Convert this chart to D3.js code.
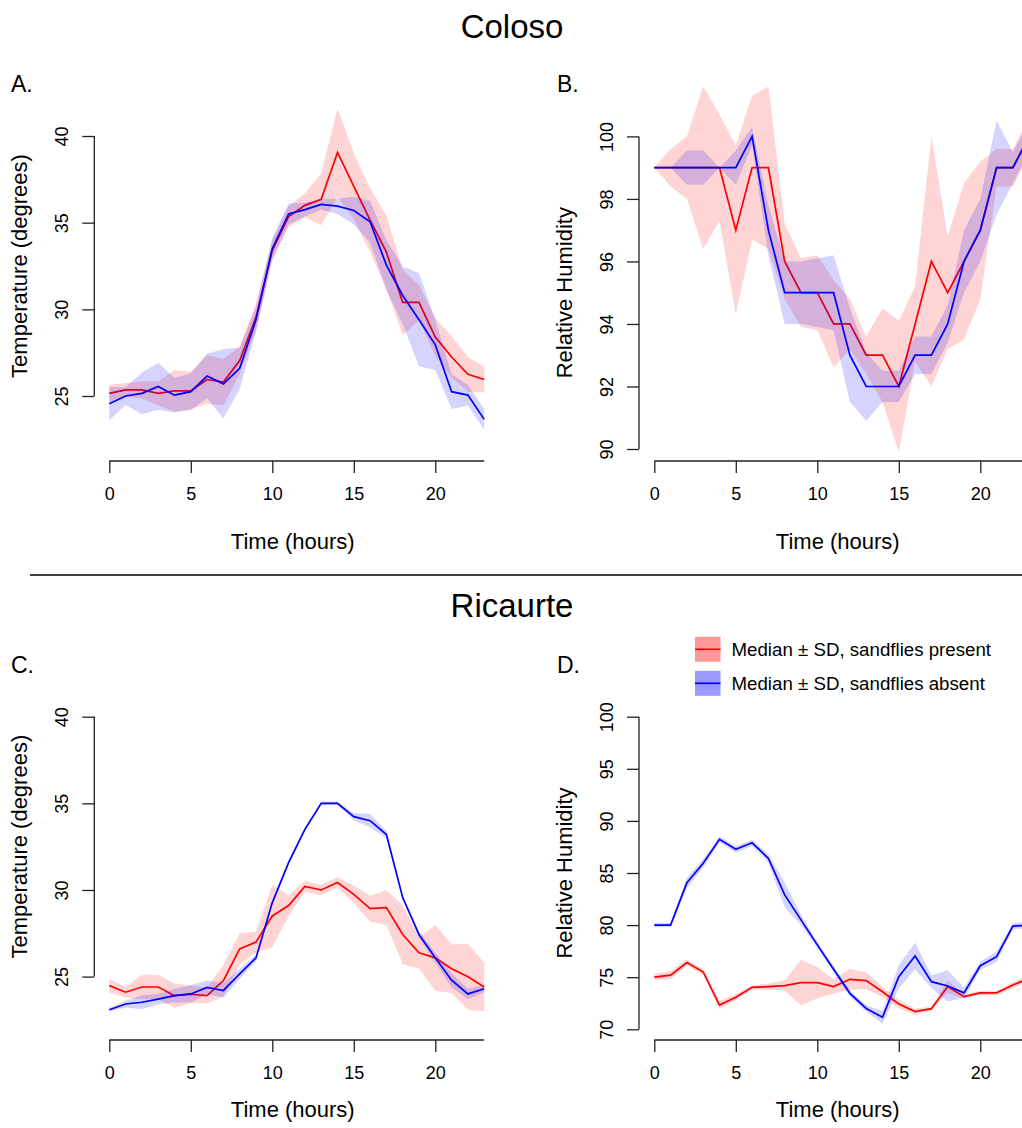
<!DOCTYPE html>
<html><head><meta charset="utf-8">
<script src="https://cdn.jsdelivr.net/npm/d3@7"></script>
<style>body{margin:0;background:#fff}svg{display:block}text{font-family:"Liberation Sans",Arial,Helvetica,sans-serif;fill:#000}</style>
</head><body>
<script>
const hours = d3.range(0, 24);
const xTicks = [0, 5, 10, 15, 20];

// Coloso temperature (A)
const colosoTempPresent = [25.15,25.35,25.35,25.15,25.3,25.3,25.95,25.8,27.05,29.55,33.4,35.35,36.0,36.35,39.05,37.1,35.15,33.3,30.4,30.4,28.4,27.25,26.25,25.95];
const colosoTempPresentSD = [0.5,0.4,0.5,0.7,1.2,1.1,1.4,1.35,0.8,0.8,0.6,0.6,0.7,1.5,2.55,1.9,1.85,2.1,1.9,1.0,1.1,1.2,1.0,0.75];
const colosoTempAbsent = [24.55,25.0,25.15,25.55,25.05,25.25,26.15,25.7,26.6,29.4,33.5,35.5,35.75,36.05,35.95,35.7,35.05,32.55,30.8,29.4,27.95,25.25,25.05,23.65];
const colosoTempAbsentSD = [0.97,0.5,1.2,1.35,1.0,1.05,1.3,2.0,1.2,0.7,0.6,0.6,0.4,0.3,0.45,0.8,1.2,1.45,1.65,2.7,1.45,1.0,0.6,0.6];

// Coloso humidity (B)
const colosoHumPresent = [99,99,99,99,99,97,99,99,96,95,95,94,94,93,93,92,94,96,95,96,97,99,99,100];
const colosoHumPresentSD = [0,0.6,1,2.6,1.7,2.7,2.3,2.6,1.2,1.1,1.2,1.4,0.8,0.6,1.5,2.1,1.2,4,1.8,2.5,2.2,0.6,0.6,0.6];
const colosoHumAbsent = [99,99,99,99,99,99,100,97,95,95,95,95,93,92,92,92,93,93,94,96,97,99,99,100];
const colosoHumAbsentSD = [0,0,0.55,0.55,0,0.55,0.3,0.8,1,1,1.1,1.2,1.5,1.1,0.5,0.5,0.6,0.6,0.6,1,1,1.5,0.5,0.5];

// Ricaurte temperature (C)
const ricaurteTempPresent = [24.48,24.1,24.4,24.4,23.9,23.98,23.9,24.77,26.6,26.99,28.5,29.1,30.2,30.0,30.43,29.75,28.92,28.98,27.43,26.37,26.08,25.45,24.99,24.4];
const ricaurteTempPresentSD = [0.4,0.3,0.7,0.7,0.7,0.5,0.45,0.9,0.9,0.6,1.8,0.6,0.3,0.3,0.3,0.5,0.75,1.0,1.7,0.9,1.9,1.4,1.9,1.4];
const ricaurteTempAbsent = [23.09,23.42,23.52,23.7,23.9,24.0,24.38,24.2,25.16,26.08,29.27,31.58,33.5,35.0,35.0,34.23,34.0,33.2,29.56,27.43,26.08,24.79,24.0,24.3];
const ricaurteTempAbsentSD = [0.1,0.2,0.4,0.3,0.4,0.5,0.4,0.4,0.3,0.2,0.1,0.1,0.1,0.1,0.1,0.2,0.4,0.2,0.1,0.2,0.3,0.4,0.3,0.2];

// Ricaurte humidity (D)
const ricaurteHumPresent = [75,75.2,76.4,75.5,72.33,73.07,74.03,74.1,74.2,74.48,74.48,74.1,74.8,74.67,73.6,72.43,71.7,71.98,74.1,73.13,73.5,73.5,74.25,74.9];
const ricaurteHumPresentSD = [0.3,0.4,0.3,0.3,0.4,0.3,0.2,0.3,0.5,2.2,1.5,0.7,1.0,0.8,0.5,0.4,0.3,0.2,0.6,0.2,0.2,0.2,0.3,0.3];
const ricaurteHumAbsent = [80,80,84.07,85.93,88.23,87.27,87.9,86.4,82.9,80.5,78.1,75.76,73.45,72.0,71.15,75.05,77.03,74.57,74.16,73.5,76.1,76.97,79.9,80];
const ricaurteHumAbsentSD = [0.2,0.2,0.5,0.4,0.3,0.3,0.3,0.4,1.2,0.5,0.3,0.3,0.3,0.3,0.6,1.1,1.3,0.6,1.5,0.5,0.4,0.5,0.3,0.3];

const tempTicks = [25, 30, 35, 40];
const humTicksB = [90, 92, 94, 96, 98, 100];
const humTicksD = [70, 75, 80, 85, 90, 95, 100];

const siteTitles = ["Coloso", "Ricaurte"];
const legendLabels = ["Median \u00B1 SD, sandflies present", "Median \u00B1 SD, sandflies absent"];

const W = 1022, H = 1128;
const svg = d3.select("body").append("svg").attr("width", W).attr("height", H);

const FONT = '"Liberation Sans",Arial,Helvetica,sans-serif';

function panel(o) {
  const g = svg.append("g");
  const x = d3.scaleLinear().domain([0, 23]).range([o.x0, o.x0 + 23 * 16.3]);
  const y = d3.scaleLinear().domain(o.yDomain).range(o.yRange);
  const series = [
    {m: o.present, sd: o.presentSD, fill: "rgba(255,0,0,0.17)", stroke: "#ff0000"},
    {m: o.absent, sd: o.absentSD, fill: "rgba(0,0,255,0.17)", stroke: "#0000ff"}
  ];
  series.forEach(s => {
    const area = d3.area().x((d, i) => x(hours[i])).y0((d, i) => y(s.m[i] - s.sd[i])).y1((d, i) => y(s.m[i] + s.sd[i]));
    g.append("path").attr("d", area(s.m)).attr("fill", s.fill).attr("stroke", "none");
    const line = d3.line().x((d, i) => x(hours[i])).y(d => y(d));
    g.append("path").attr("d", line(s.m)).attr("fill", "none").attr("stroke", s.stroke).attr("stroke-width", 1.7).attr("stroke-linejoin", "miter");
  });
  // x axis
  const xa = g.append("g").attr("transform", `translate(0,${o.xAxisY})`)
    .call(d3.axisBottom(x).tickValues(xTicks).tickSize(12).tickPadding(14).tickSizeOuter(0));
  xa.select(".domain").attr("d", `M${x(0)},0H${x(23)}`).attr("stroke", "#222").attr("stroke-width", 1.3);
  xa.selectAll(".tick line").attr("stroke", "#222").attr("stroke-width", 1.3);
  xa.selectAll("text").style("font-size", "18px").style("font-family", FONT).attr("fill", "#000").attr("dy", "0.71em");
  // y axis
  const ya = g.append("g").attr("transform", `translate(${o.yAxisX},0)`)
    .call(d3.axisLeft(y).tickValues(o.yTicks).tickSize(12).tickSizeOuter(0));
  ya.select(".domain").attr("stroke", "#222").attr("stroke-width", 1.3)
    .attr("d", `M0,${y(o.yTicks[0])}V${y(o.yTicks[o.yTicks.length - 1])}`);
  ya.selectAll(".tick line").attr("stroke", "#222").attr("stroke-width", 1.3);
  ya.selectAll("text").style("font-size", "18px").style("font-family", FONT).attr("fill", "#000")
    .attr("x", 0).attr("dy", 0).attr("text-anchor", "middle")
    .attr("transform", "translate(-26,0) rotate(-90)");
  // labels
  g.append("text").attr("x", (x(0) + x(23)) / 2 - 4).attr("y", o.xLabelY).attr("text-anchor", "middle")
    .style("font-size", "22px").text("Time (hours)");
  g.append("text").attr("transform", `translate(${o.yAxisX - 67},${(y(o.yTicks[0]) + y(o.yTicks[o.yTicks.length - 1])) / 2}) rotate(-90)`)
    .attr("text-anchor", "middle").style("font-size", "22px").text(o.yLabel);
  g.append("text").attr("x", o.letterX).attr("y", o.letterY).style("font-size", "23px").text(o.letter);
}

panel({letter: "A.", letterX: 11, letterY: 92, x0: 109.3, xAxisY: 461, xLabelY: 549, yAxisX: 94.3,
  yDomain: [25, 40], yRange: [396, 136], yTicks: tempTicks, yLabel: "Temperature (degrees)",
  present: colosoTempPresent, presentSD: colosoTempPresentSD, absent: colosoTempAbsent, absentSD: colosoTempAbsentSD});
panel({letter: "B.", letterX: 557, letterY: 92, x0: 654.3, xAxisY: 461, xLabelY: 549, yAxisX: 639,
  yDomain: [90, 100], yRange: [449, 136.4], yTicks: humTicksB, yLabel: "Relative Humidity",
  present: colosoHumPresent, presentSD: colosoHumPresentSD, absent: colosoHumAbsent, absentSD: colosoHumAbsentSD});
panel({letter: "C.", letterX: 11, letterY: 673, x0: 109.3, xAxisY: 1040, xLabelY: 1117, yAxisX: 94.3,
  yDomain: [25, 40], yRange: [976.6, 716.7], yTicks: tempTicks, yLabel: "Temperature (degrees)",
  present: ricaurteTempPresent, presentSD: ricaurteTempPresentSD, absent: ricaurteTempAbsent, absentSD: ricaurteTempAbsentSD});
panel({letter: "D.", letterX: 557, letterY: 673, x0: 654.3, xAxisY: 1040, xLabelY: 1117, yAxisX: 639,
  yDomain: [70, 100], yRange: [1029.3, 716.7], yTicks: humTicksD, yLabel: "Relative Humidity",
  present: ricaurteHumPresent, presentSD: ricaurteHumPresentSD, absent: ricaurteHumAbsent, absentSD: ricaurteHumAbsentSD});

// Titles
svg.append("text").attr("x", 512).attr("y", 38).attr("text-anchor", "middle").style("font-size", "33px").text(siteTitles[0]);
svg.append("text").attr("x", 512).attr("y", 617).attr("text-anchor", "middle").style("font-size", "33px").text(siteTitles[1]);
// separator
svg.append("line").attr("x1", 30).attr("x2", 1022).attr("y1", 575).attr("y2", 575).attr("stroke", "#000").attr("stroke-width", 1.5);

// Legend
const legColors = [["rgba(255,0,0,0.4)", "#ff0000"], ["rgba(0,0,255,0.4)", "#0000ff"]];
legendLabels.forEach((lab, i) => {
  const cy = 649.3 + i * 34;
  svg.append("rect").attr("x", 695).attr("y", cy - 12.5).attr("width", 25.5).attr("height", 25).attr("fill", legColors[i][0]);
  svg.append("line").attr("x1", 695).attr("x2", 720.5).attr("y1", cy).attr("y2", cy).attr("stroke", legColors[i][1]).attr("stroke-width", 1.7);
  svg.append("text").attr("x", 731.5).attr("y", cy).attr("dy", "0.35em").style("font-size", "18.7px").text(lab);
});
</script>
</body></html>
